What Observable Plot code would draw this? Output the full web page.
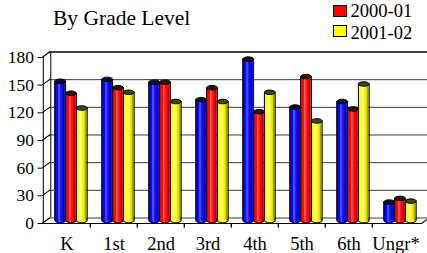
<!DOCTYPE html>
<html><head><meta charset="utf-8">
<script src="https://cdn.jsdelivr.net/npm/d3@7"></script>
<script src="https://cdn.jsdelivr.net/npm/@observablehq/plot@0.6"></script>
<style>
html,body{margin:0;padding:0;background:#fff;}
#wrap{position:relative;width:427px;height:253px;overflow:hidden;font-family:'Liberation Serif','Times New Roman',serif;color:#000;}
#head{position:relative;width:427px;height:44px;}
.title{position:absolute;left:53px;top:7.7px;font-size:21.5px;line-height:1;white-space:nowrap;}
.lg-sw{position:absolute;left:333px;width:14px;height:12px;box-sizing:border-box;border:1.5px solid #000;}
.lg-tx{position:absolute;left:350.5px;font-size:18.5px;line-height:1;white-space:nowrap;}
#chart svg{display:block;}
</style></head>
<body>
<div id="wrap">
  <div id="head"><div class="title">By Grade Level</div><div id="legend"></div></div>
  <div id="chart"></div>
</div>
<script>
const categories = ["K", "1st", "2nd", "3rd", "4th", "5th", "6th", "Ungr*"];
const blueValues = [151, 153, 150, 131, 175, 123, 129, 20];
const redValues = [138, 144, 150, 144, 118, 156, 121, 24];
const yellowValues = [122, 139, 129, 129, 139, 108, 148, 21];
const legendLabels = ["2000-01", "2001-02"];
const legendColors = ["#ff0000", "#ffff00"];
const yTicks = [0, 30, 60, 90, 120, 150, 180];

// legend
const legend = document.getElementById("legend");
legendLabels.forEach((lab, i) => {
  const sw = document.createElement("div");
  sw.className = "lg-sw";
  sw.style.top = (5 + i * 20.3) + "px";
  sw.style.background = legendColors[i];
  legend.appendChild(sw);
  const tx = document.createElement("div");
  tx.className = "lg-tx";
  tx.style.top = (1.8 + i * 21.7) + "px";
  tx.textContent = lab;
  legend.appendChild(tx);
});

const W = 427, H = 209, mL = 41.5, mR = 6, mT = 13, mB = 30;
const bw = (W - mL - mR) / categories.length;
const backDX = 7.5, backDY = -5.5;
const barDX = 4, barDY = -3;
const barW = 10.8, pad = (bw - 3 * barW) / 2;
const diagLen = Math.hypot(backDX, backDY);
const diagRot = Math.atan2(backDX, -backDY) * 180 / Math.PI;

const ellipse = {
  draw(ctx, size) {
    const rx = Math.sqrt(size / Math.PI), ry = rx * 0.42, k = 0.5523;
    ctx.moveTo(rx, 0);
    ctx.bezierCurveTo(rx, k * ry, k * rx, ry, 0, ry);
    ctx.bezierCurveTo(-k * rx, ry, -rx, k * ry, -rx, 0);
    ctx.bezierCurveTo(-rx, -k * ry, -k * rx, -ry, 0, -ry);
    ctx.bezierCurveTo(k * rx, -ry, rx, -k * ry, rx, 0);
    ctx.closePath();
  }
};

const seriesDefs = [
  {values: blueValues, grad: "gBlue", cap: "#0a0a40"},
  {values: redValues, grad: "gRed", cap: "#450808"},
  {values: yellowValues, grad: "gYellow", cap: "#45450a"}
];

const barMarks = [];
seriesDefs.forEach((s, i) => {
  const rows = categories.map((c, j) => ({cat: c, value: s.values[j]}));
  const L = pad + i * barW, R = bw - L - barW;
  const cdx = -bw / 2 + L + barW / 2 + barDX;
  barMarks.push(
    Plot.dot(rows, {x: "cat", y: d => 0, r: barW / 2, symbol: ellipse, fill: `url(#${s.grad})`, stroke: "black", strokeWidth: 1, dx: cdx, dy: barDY}),
    Plot.barY(rows, {x: "cat", y: "value", fill: `url(#${s.grad})`, insetLeft: L, insetRight: R, dx: barDX, dy: barDY}),
    Plot.ruleX(rows, {x: "cat", y1: d => 0, y2: "value", dx: -bw / 2 + L + barDX, dy: barDY, stroke: "black", strokeWidth: 1}),
    Plot.ruleX(rows, {x: "cat", y1: d => 0, y2: "value", dx: -bw / 2 + L + barW + barDX, dy: barDY, stroke: "black", strokeWidth: 1}),
    Plot.dot(rows, {x: "cat", y: "value", r: barW / 2, symbol: ellipse, fill: s.cap, stroke: "black", strokeWidth: 1, dx: cdx, dy: barDY})
  );
});

const svg = Plot.plot({
  width: W, height: H,
  marginLeft: mL, marginRight: mR, marginTop: mT, marginBottom: mB,
  style: {fontFamily: "'Liberation Serif','Times New Roman',serif", fontSize: "17.5px", background: "transparent", color: "black", overflow: "visible"},
  x: {type: "band", domain: categories, padding: 0},
  y: {domain: [0, 180]},
  marks: [
    // back wall gridlines
    Plot.ruleY(yTicks.filter(t => t < 180), {y: d => d, dx: backDX, dy: backDY, stroke: "#3a3a3a", strokeWidth: 1}),
    Plot.ruleY([180], {y: d => d, dx: backDX, dy: backDY, stroke: "black", strokeWidth: 1.5}),
    Plot.ruleX([categories[0]], {x: d => d, y1: d => 0, y2: d => 180, dx: -bw / 2 + backDX, dy: backDY, stroke: "black", strokeWidth: 1}),
    // left wall diagonals
    Plot.vector(yTicks, {y: d => d, frameAnchor: "left", anchor: "start", length: diagLen, rotate: diagRot, shape: "spike", r: 0, stroke: "black", strokeWidth: 1}),
    // right floor diagonal
    Plot.vector([0], {y: d => d, frameAnchor: "right", anchor: "start", length: diagLen, rotate: diagRot, shape: "spike", r: 0, stroke: "black", strokeWidth: 1}),
    // front floor + front axis
    Plot.ruleY([0], {y: d => d, stroke: "black", strokeWidth: 1}),
    Plot.ruleX([categories[0]], {x: d => d, y1: d => 0, y2: d => 180, dx: -bw / 2, stroke: "black", strokeWidth: 1}),
    // category separators
    Plot.vector(categories.slice(1), {x: d => d, y: d => 0, dx: -bw / 2, anchor: "start", length: 4, rotate: 180, shape: "spike", r: 0, stroke: "black", strokeWidth: 1}),
    ...barMarks,
    Plot.axisY({ticks: yTicks, tickSize: 4, tickPadding: 4, fontSize: 17.5, label: null}),
    Plot.axisX({tickSize: 0, tickPadding: 13, fontSize: 18.5, label: null})
  ]
});

const ns = "http://www.w3.org/2000/svg";
const defs = document.createElementNS(ns, "defs");
function addGrad(id, stops) {
  const g = document.createElementNS(ns, "linearGradient");
  g.setAttribute("id", id);
  g.setAttribute("x1", "0"); g.setAttribute("y1", "0");
  g.setAttribute("x2", "1"); g.setAttribute("y2", "0");
  stops.forEach(([o, c]) => {
    const st = document.createElementNS(ns, "stop");
    st.setAttribute("offset", o);
    st.setAttribute("stop-color", c);
    g.appendChild(st);
  });
  defs.appendChild(g);
}
addGrad("gBlue", [[0, "#000070"], [0.12, "#0000ff"], [0.32, "#0a0aff"], [0.42, "#6a6aff"], [0.55, "#2020ff"], [0.8, "#0000ee"], [1, "#00007a"]]);
addGrad("gRed", [[0, "#700000"], [0.12, "#ff0000"], [0.32, "#ff0a0a"], [0.42, "#ff7070"], [0.55, "#ff2020"], [0.8, "#ee0000"], [1, "#7a0000"]]);
addGrad("gYellow", [[0, "#707000"], [0.12, "#ffff00"], [0.32, "#ffff20"], [0.42, "#ffffa0"], [0.55, "#ffff30"], [0.8, "#e0e000"], [1, "#7a7a00"]]);
svg.insertBefore(defs, svg.firstChild);

document.getElementById("chart").appendChild(svg);
</script>
</body></html>
